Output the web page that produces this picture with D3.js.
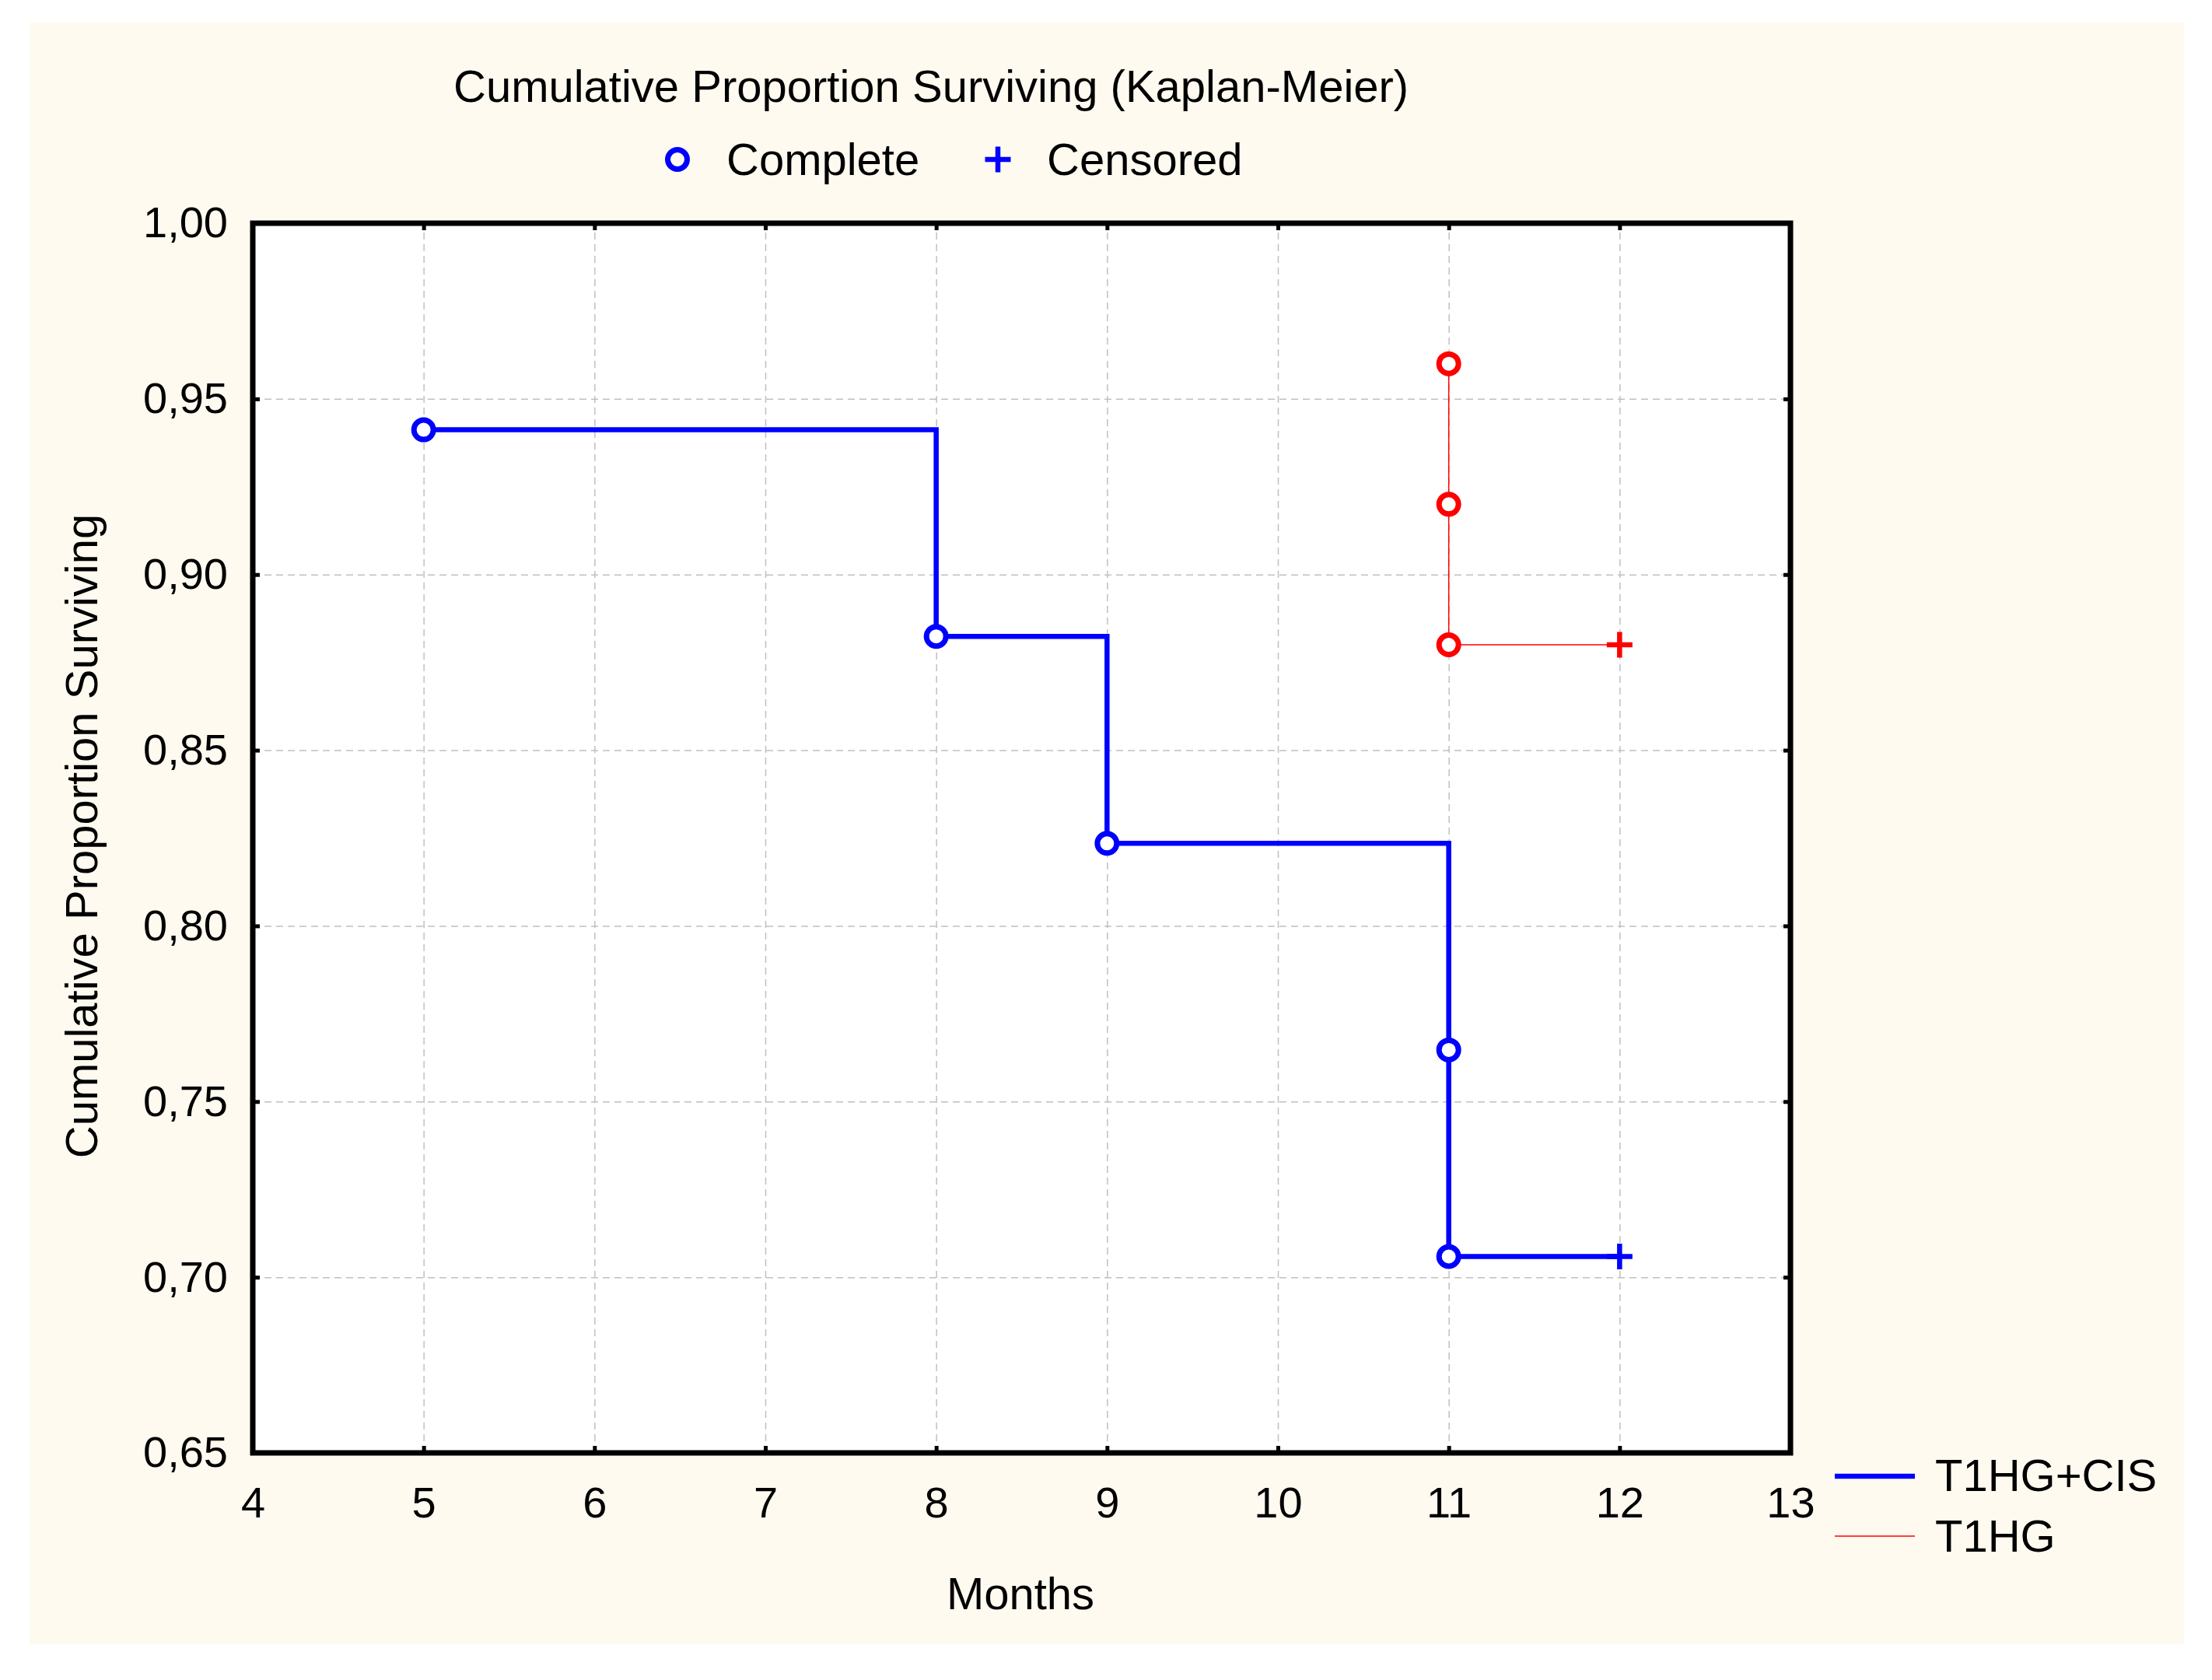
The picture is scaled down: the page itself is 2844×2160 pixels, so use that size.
<!DOCTYPE html>
<html>
<head>
<meta charset="utf-8">
<script src="https://cdn.jsdelivr.net/npm/d3@7"></script>
<style>
  body { margin: 0; background: #ffffff; }
  svg { display: block; }
  text { font-family: "Liberation Sans", Arial, sans-serif; fill: #000; }
</style>
</head>
<body>
<svg id="chart" width="2844" height="2160"></svg>
<script>
// Data
const xTicks = [4, 5, 6, 7, 8, 9, 10, 11, 12, 13];
const yTicks = [0.65, 0.70, 0.75, 0.80, 0.85, 0.90, 0.95, 1.00];

// T1HG+CIS: complete events and censored point
const cisTimes = [5, 8, 9, 11, 11];
const cisSurv = [0.9412, 0.8824, 0.8235, 0.7647, 0.7059];
const cisCensTimes = [12];
const cisCensSurv = [0.7059];

// T1HG
const hgTimes = [11, 11, 11];
const hgSurv = [0.96, 0.92, 0.88];
const hgCensTimes = [12];
const hgCensSurv = [0.88];

const seriesNames = ['T1HG+CIS', 'T1HG'];
const seriesColors = ['#0000ff', '#ff0000'];
const seriesWidths = [6.5, 1.5];

const svg = d3.select('#chart');

// Layout
const plotLeft = 325, plotRight = 2302, plotTop = 287, plotBottom = 1868;

svg.append('rect')
  .attr('x', 38).attr('y', 29)
  .attr('width', 2770).attr('height', 2085)
  .attr('fill', '#fefaf0');

const x = d3.scaleLinear().domain([4, 13]).range([plotLeft, plotRight]);
const y = d3.scaleLinear().domain([0.65, 1]).range([plotBottom, plotTop]);

svg.append('rect')
  .attr('x', plotLeft).attr('y', plotTop)
  .attr('width', plotRight - plotLeft).attr('height', plotBottom - plotTop)
  .attr('fill', '#ffffff');

// Grid
const gridX = svg.append('g')
  .attr('transform', `translate(0,${plotBottom})`)
  .call(d3.axisBottom(x).tickValues(xTicks.slice(1, -1)).tickSize(-(plotBottom - plotTop)).tickFormat(''));
const gridY = svg.append('g')
  .attr('transform', `translate(${plotLeft},0)`)
  .call(d3.axisLeft(y).tickValues(yTicks.slice(1, -1)).tickSize(-(plotRight - plotLeft)).tickFormat(''));
[gridX, gridY].forEach((g) => {
  g.select('.domain').remove();
  g.selectAll('line')
    .attr('stroke', '#c0c0c0')
    .attr('stroke-width', 1.5)
    .attr('stroke-dasharray', '9,6');
});

// Series lines
const line = d3.line()
  .x((d) => x(d[0]))
  .y((d) => y(d[1]))
  .curve(d3.curveStepAfter);

const cisPts = cisTimes.map((t, i) => [t, cisSurv[i]])
  .concat(cisCensTimes.map((t, i) => [t, cisCensSurv[i]]));
const hgPts = hgTimes.map((t, i) => [t, hgSurv[i]])
  .concat(hgCensTimes.map((t, i) => [t, hgCensSurv[i]]));

[cisPts, hgPts].forEach((pts, i) => {
  svg.append('path')
    .attr('d', line(pts))
    .attr('fill', 'none')
    .attr('stroke', seriesColors[i])
    .attr('stroke-width', seriesWidths[i])
    .attr('stroke-linejoin', 'miter');
});

// Markers
function circles(times, surv, color) {
  svg.append('g')
    .selectAll('circle')
    .data(times.map((t, i) => [t, surv[i]]))
    .join('circle')
    .attr('cx', (d) => x(d[0]))
    .attr('cy', (d) => y(d[1]))
    .attr('r', 12.5)
    .attr('fill', '#ffffff')
    .attr('stroke', color)
    .attr('stroke-width', 7);
}
function crosses(times, surv, color) {
  svg.append('g')
    .selectAll('path')
    .data(times.map((t, i) => [t, surv[i]]))
    .join('path')
    .attr('d', (d) => {
      const cx = x(d[0]), cy = y(d[1]);
      return `M${cx - 16.5},${cy}H${cx + 16.5}M${cx},${cy - 16.5}V${cy + 16.5}`;
    })
    .attr('stroke', color)
    .attr('stroke-width', 6.5);
}
circles(cisTimes, cisSurv, seriesColors[0]);
crosses(cisCensTimes, cisCensSurv, seriesColors[0]);
circles(hgTimes, hgSurv, seriesColors[1]);
crosses(hgCensTimes, hgCensSurv, seriesColors[1]);

// Axes
const fmt = (d) => d3.format('.2f')(d).replace('.', ',');

const xAxis = svg.append('g')
  .attr('transform', `translate(0,${plotBottom})`)
  .call(d3.axisBottom(x).tickValues(xTicks).tickSize(-9).tickPadding(43));
const yAxis = svg.append('g')
  .attr('transform', `translate(${plotLeft},0)`)
  .call(d3.axisLeft(y).tickValues(yTicks).tickSize(-9).tickPadding(32).tickFormat(fmt));
const xTop = svg.append('g')
  .attr('transform', `translate(0,${plotTop})`)
  .call(d3.axisTop(x).tickValues(xTicks).tickSize(-9).tickFormat(''));
const yRight = svg.append('g')
  .attr('transform', `translate(${plotRight},0)`)
  .call(d3.axisRight(y).tickValues(yTicks).tickSize(-9).tickFormat(''));

[xAxis, yAxis, xTop, yRight].forEach((g) => {
  g.select('.domain').remove();
  g.selectAll('line').attr('stroke', '#000').attr('stroke-width', 5);
  g.selectAll('text').attr('font-size', 56).attr('font-family', '"Liberation Sans", Arial, sans-serif').attr('fill', '#000');
});

// Frame
svg.append('rect')
  .attr('x', plotLeft).attr('y', plotTop)
  .attr('width', plotRight - plotLeft).attr('height', plotBottom - plotTop)
  .attr('fill', 'none')
  .attr('stroke', '#000')
  .attr('stroke-width', 7);

// Titles
svg.append('text')
  .attr('x', 583).attr('y', 131)
  .attr('font-size', 58)
  .text('Cumulative Proportion Surviving (Kaplan-Meier)');

svg.append('text')
  .attr('transform', 'translate(125,1075) rotate(-90)')
  .attr('text-anchor', 'middle')
  .attr('font-size', 58)
  .text('Cumulative Proportion Surviving');

svg.append('text')
  .attr('x', 1312).attr('y', 2069)
  .attr('text-anchor', 'middle')
  .attr('font-size', 58)
  .text('Months');

// Marker legend
svg.append('circle')
  .attr('cx', 871).attr('cy', 205).attr('r', 12.5)
  .attr('fill', 'none').attr('stroke', seriesColors[0]).attr('stroke-width', 7);
svg.append('text').attr('x', 934).attr('y', 225).attr('font-size', 58).text('Complete');
svg.append('path')
  .attr('d', 'M1266.5,205H1299.5M1283,188.5V221.5')
  .attr('stroke', seriesColors[0]).attr('stroke-width', 6.5);
svg.append('text').attr('x', 1346).attr('y', 225).attr('font-size', 58).text('Censored');

// Series legend
const legendY = [1898, 1975];
const legendBase = [1917, 1995];
seriesNames.forEach((name, i) => {
  svg.append('line')
    .attr('x1', 2359).attr('x2', 2462)
    .attr('y1', legendY[i]).attr('y2', legendY[i])
    .attr('stroke', seriesColors[i])
    .attr('stroke-width', seriesWidths[i]);
  svg.append('text')
    .attr('x', 2488).attr('y', legendBase[i])
    .attr('font-size', 58)
    .text(name);
});
</script>
</body>
</html>
